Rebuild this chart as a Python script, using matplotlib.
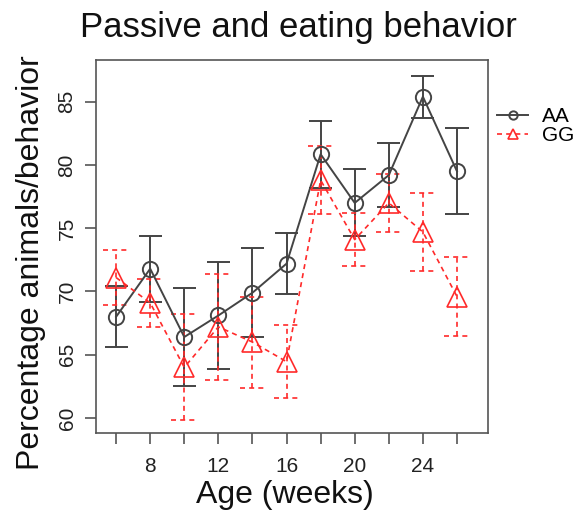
import matplotlib
matplotlib.use("Agg")
import matplotlib.pyplot as plt
from matplotlib.lines import Line2D
import numpy as np

# Age in weeks
weeks = [6, 8, 10, 12, 14, 16, 18, 20, 22, 24, 26]

# Mean percentage of animals showing the behavior, with standard errors
aa_mean = [68.0, 71.8, 66.4, 68.1, 69.9, 72.2, 80.85, 77.0, 79.2, 85.4, 79.5]
aa_err = [2.4, 2.6, 3.9, 4.25, 3.5, 2.4, 2.65, 2.65, 2.5, 1.65, 3.4]
gg_mean = [71.1, 69.1, 64.0, 67.2, 66.0, 64.45, 78.8, 74.1, 77.0, 74.7, 69.6]
gg_err = [2.15, 1.9, 4.2, 4.2, 3.6, 2.9, 2.7, 2.1, 2.3, 3.1, 3.15]

x_ticks = [6, 8, 10, 12, 14, 16, 18, 20, 22, 24, 26]
x_tick_labels = ["", "8", "", "12", "", "16", "", "20", "", "24", ""]
y_ticks = [60, 65, 70, 75, 80, 85]

plt.rcParams["font.family"] = ["Liberation Sans", "DejaVu Sans"]

W, H = 583, 516
fig = plt.figure(figsize=(W / 100, H / 100), dpi=100)
ax = fig.add_axes([96 / W, 1 - 433 / H, (488 - 96) / W, (433 - 60) / H])

aa_col = "#444444"
gg_col = "#ff2a2a"

x = np.array(weeks, dtype=float)


def draw_series(mean, err, color, ls, marker, ms, cap_half, lw):
    mean = np.asarray(mean)
    err = np.asarray(err)
    ax.vlines(x, mean - err, mean + err, colors=color, linestyles=ls, lw=lw, zorder=2)
    ax.hlines(mean - err, x - cap_half, x + cap_half, colors=color, linestyles=ls, lw=lw, zorder=2)
    ax.hlines(mean + err, x - cap_half, x + cap_half, colors=color, linestyles=ls, lw=lw, zorder=2)
    ax.plot(x, mean, color=color, ls=ls, lw=lw, marker=marker, ms=ms,
            mfc="none", mec=color, mew=lw, zorder=3)


draw_series(aa_mean, aa_err, aa_col, "-", "o", 11, 0.68, 1.4)
draw_series(gg_mean, gg_err, gg_col, (0, (3, 2.5)), "^", 15, 0.76, 1.2)

ax.set_xlim(4.82, 27.82)
ax.set_ylim(58.81, 88.3)

ax.set_xticks(x_ticks)
ax.set_xticklabels(x_tick_labels)
ax.set_yticks(y_ticks)
ax.set_yticklabels([str(v) for v in y_ticks], rotation=90, va="center")

for s in ax.spines.values():
    s.set_color("#555555")
    s.set_linewidth(1.2)
ax.tick_params(axis="both", colors="#555555", length=8, width=1.2,
               labelcolor="#222222", labelsize=15)
ax.tick_params(axis="x", pad=9)
ax.tick_params(axis="y", pad=6)

ax.set_xlabel("Age (weeks)", fontsize=23, color="#111111")
ax.set_ylabel("Percentage animals/behavior", fontsize=23, color="#111111")
ax.xaxis.set_label_coords(0.482, -0.125)
ax.yaxis.set_label_coords(-0.128, 0.458)
fig.text(298 / W, 1 - 27 / H, "Passive and eating behavior", fontsize=25,
         ha="center", va="center", color="#111111")

# Legend to the right of the plot box
handles = [
    Line2D([], [], color=aa_col, lw=1.4, marker="o", ms=6, mfc="none", mew=1.4),
    Line2D([], [], color=gg_col, lw=1.2, ls=(0, (3, 2.5)), marker="^", ms=7, mfc="none", mew=1.2),
]
fig.legend(handles, ["AA", "GG"], loc="center left",
           bbox_to_anchor=(497 / W, 1 - 126 / H), frameon=False, fontsize=15,
           handlelength=1.5, handletextpad=0.65, labelspacing=0.0, borderpad=0,
           borderaxespad=0)

fig.savefig("out.png", dpi=100)
